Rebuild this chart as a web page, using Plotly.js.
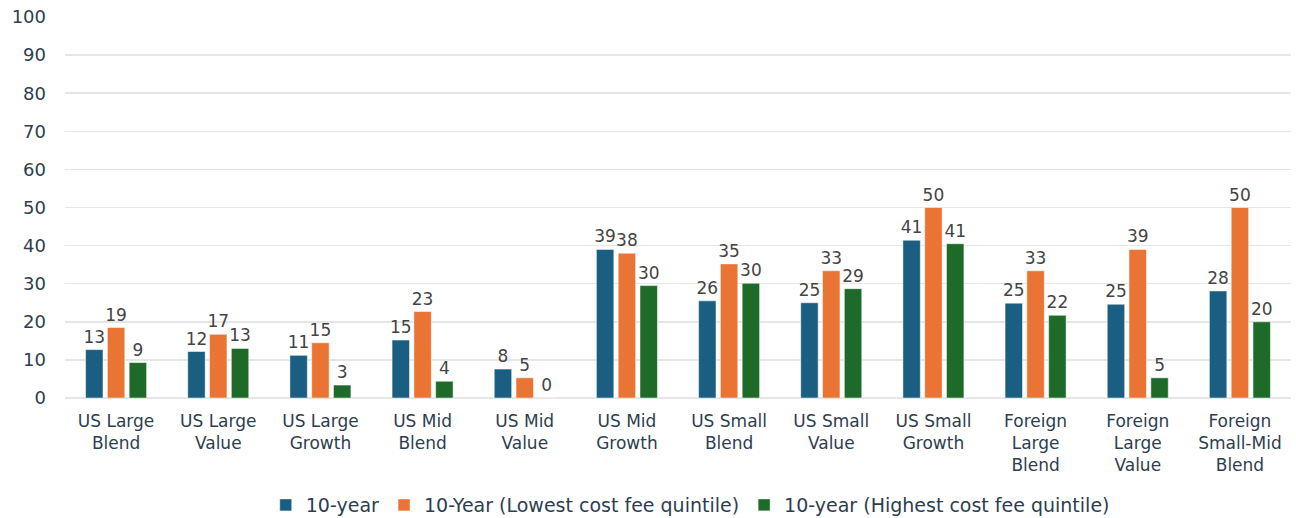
<!DOCTYPE html>
<html>
<head>
<meta charset="utf-8">
<script src="https://cdn.plot.ly/plotly-3.0.1.min.js"></script>
<style>html,body{margin:0;padding:0;background:#fff;}#chart{width:1296px;height:518px;}</style>
</head>
<body>
<div id="chart"></div>
<script>
const categories = ["US Large<br>Blend","US Large<br>Value","US Large<br>Growth","US Mid<br>Blend","US Mid<br>Value","US Mid<br>Growth","US Small<br>Blend","US Small<br>Value","US Small<br>Growth","Foreign<br>Large<br>Blend","Foreign<br>Large<br>Value","Foreign<br>Small-Mid<br>Blend"];
const seriesNames = ["10-year","10-Year (Lowest cost fee quintile)","10-year (Highest cost fee quintile)"];
const tenYear = [12.7,12.2,11.2,15.2,7.6,39.0,25.5,25.0,41.4,24.9,24.6,28.1];
const lowestCost = [18.5,16.7,14.5,22.7,5.3,38.0,35.2,33.4,50.0,33.4,39.0,50.0];
const highestCost = [9.3,13.0,3.4,4.4,0,29.5,30.1,28.7,40.5,21.7,5.3,20.0];
const colors = ["#1a5f82","#e97434","#1e6b29"];

const font = "'DejaVu Sans', sans-serif";
const values = [tenYear, lowestCost, highestCost];
const traces = values.map((v,i)=>({
  type:'bar', x:categories, y:v, name:seriesNames[i],
  marker:{color:colors[i], line:{color:'#ffffff', width:0.5}},
  texttemplate:'%{y:.0f}', textposition:'outside', cliponaxis:false, constraintext:'none',
  textfont:{family:font, size:17, color:'#444444'}
}));

const layout = {
  width:1296, height:518,
  margin:{l:65, r:5, t:17, b:120},
  paper_bgcolor:'#fff', plot_bgcolor:'#fff',
  barmode:'group', bargap:0.36, bargroupgap:0.2,
  font:{family:font, color:'#2d3e50'},
  xaxis:{automargin:false, tickfont:{family:font, size:17, color:'#2d3e50'}, showgrid:false, showline:false, ticks:'', ticklabelstandoff:11},
  yaxis:{automargin:false, range:[0,100], dtick:10, tick0:0, showgrid:true, gridcolor:'#e6e6e6', gridwidth:1.5, zeroline:true, zerolinecolor:'#e6e6e6', zerolinewidth:1.5, ticks:'', tickfont:{family:font, size:18, color:'#2d3e50'}, ticklabelstandoff:18},
  legend:{orientation:'h', x:0.51, xanchor:'center', yref:'container', y:0.025, yanchor:'middle', font:{family:font, size:19, color:'#2d3e50'}, itemwidth:30, traceorder:'normal'},
  showlegend:true
};
Plotly.newPlot('chart', traces, layout, {displayModeBar:false, staticPlot:true});
</script>
</body>
</html>
